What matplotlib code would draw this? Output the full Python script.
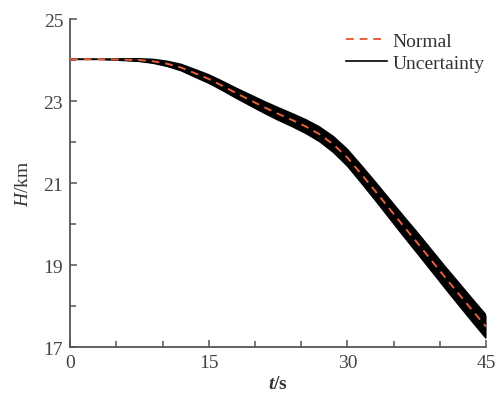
import matplotlib
matplotlib.use("Agg")
import matplotlib.pyplot as plt
from matplotlib.ticker import MultipleLocator
import numpy as np

plt.rcParams['font.family'] = ['Liberation Serif', 'DejaVu Serif']
plt.rcParams['mathtext.fontset'] = 'custom'
plt.rcParams['mathtext.it'] = 'Liberation Serif:italic'
plt.rcParams['mathtext.rm'] = 'Liberation Serif'
plt.rcParams['mathtext.bf'] = 'Liberation Serif:italic:bold'

# Data
t = [0, 1.5, 3, 4.5, 6, 7.5, 9, 10.5, 12, 13.5, 15, 16.5, 18, 19.5, 21, 22.5, 24, 25.5,
     27, 28.5, 30, 31.5, 33, 34.5, 36, 37.5, 39, 40.5, 42, 43.5, 45]
h_normal = [24.02, 24.02, 24.02, 24.015, 24.01, 24.0, 23.97, 23.91, 23.82, 23.68, 23.54,
            23.37, 23.19, 23.02, 22.85, 22.69, 22.54, 22.38, 22.19, 21.94, 21.62, 21.22,
            20.81, 20.39, 19.97, 19.56, 19.14, 18.72, 18.31, 17.90, 17.50]
h_spread = [0.0, 0.0, 0.0, 0.01, 0.02, 0.03, 0.045, 0.06, 0.075, 0.09, 0.10, 0.11, 0.12,
            0.13, 0.14, 0.15, 0.155, 0.165, 0.175, 0.19, 0.20, 0.21, 0.22, 0.23, 0.24,
            0.25, 0.255, 0.26, 0.27, 0.275, 0.28]

x_ticks = [0, 15, 30, 45]
y_ticks = [17, 19, 21, 23, 25]

t_a = np.array(t)
hn = np.array(h_normal)
hs = np.array(h_spread)

fig = plt.figure(figsize=(4.97, 4.10), dpi=100)
ax = fig.add_axes([0.141, 0.151, 0.837, 0.80])

gray = '#555555'
ax.fill_between(t_a, hn - hs, hn + hs, color='black', lw=0, zorder=2)
ax.plot(t_a, hn + hs, color='black', lw=1.2, zorder=2)
ax.plot(t_a, hn - hs, color='black', lw=1.2, zorder=2, label='Uncertainty')
ax.plot(t_a, hn, color='#E8603C', lw=1.4, ls=(0, (4, 3)), zorder=3, label='Normal')

ax.set_xlim(0, 45)
ax.set_ylim(17, 25)
ax.set_xticks(x_ticks)
ax.set_yticks(y_ticks)
ax.xaxis.set_minor_locator(MultipleLocator(5))
ax.yaxis.set_minor_locator(MultipleLocator(1))

for s in ['top', 'right']:
    ax.spines[s].set_visible(False)
for s in ['left', 'bottom']:
    ax.spines[s].set_color(gray)
    ax.spines[s].set_linewidth(1.3)

ax.tick_params(which='both', direction='in', colors=gray, labelcolor='#444444', labelsize=14)
ax.tick_params(which='major', length=5, width=1.1)
ax.tick_params(which='minor', length=4, width=1.1)
ax.tick_params(axis='x', pad=5)
ax.tick_params(axis='y', pad=5)

ax.set_xlabel(r'$\mathbf{t}$/s', fontsize=14, fontweight='bold', color='#333333', labelpad=3)
ax.set_ylabel(r'$\mathit{H}$/km', fontsize=14, color='#333333', labelpad=8)

handles, labels = ax.get_legend_handles_labels()
order = [1, 0]
leg = ax.legend([handles[i] for i in order], [labels[i] for i in order],
                loc='upper right', bbox_to_anchor=(1.024, 0.995), frameon=False,
                fontsize=14, handlelength=2.15, handletextpad=0.25, labelspacing=0.2,
                borderaxespad=0.2)
for txt in leg.get_texts():
    txt.set_color('#333333')

fig.savefig('out.png', dpi=100, facecolor='white')
